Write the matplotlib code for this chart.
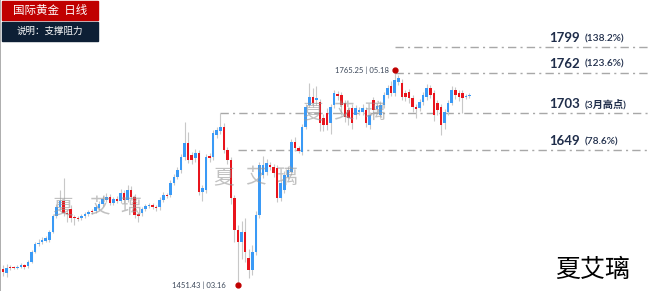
import numpy as np
import matplotlib.pyplot as plt
from matplotlib.patches import Rectangle

# daily OHLC
opens = [1475, 1469, 1478, 1478, 1477, 1478, 1481, 1480, 1486, 1500,
         1512, 1515, 1516, 1518, 1529, 1553, 1566, 1575, 1557, 1563,
         1551, 1550, 1550, 1553, 1556, 1560, 1560, 1564, 1570, 1576,
         1580, 1572, 1578, 1575, 1586, 1576, 1591, 1580, 1556, 1557,
         1563, 1567, 1569, 1566,
         1566, 1576, 1583, 1583, 1601, 1610, 1620, 1639, 1659, 1642,
         1637, 1645, 1588, 1591, 1640, 1639, 1671, 1677, 1683, 1649,
         1634, 1579, 1532, 1515, 1529, 1491, 1474, 1500, 1554, 1612,
         1617, 1627, 1624, 1623, 1579, 1591, 1610, 1617, 1661, 1652,
         1646, 1683, 1715, 1726, 1722, 1719, 1696, 1703, 1688, 1715,
         1731, 1729, 1718, 1707, 1710, 1700, 1705, 1705, 1707, 1686,
         1722, 1709, 1700, 1715, 1729, 1742, 1732, 1748, 1747, 1732,
         1734, 1725, 1712, 1710, 1719, 1726, 1740, 1732, 1718, 1712,
         1688, 1705, 1718, 1737, 1732, 1732, 1726, 1728]
closes = [1471, 1477, 1477, 1477, 1478, 1481, 1478, 1486, 1500, 1512,
          1513, 1518, 1521, 1529, 1553, 1566, 1575, 1557, 1556, 1550,
          1550, 1548, 1553, 1556, 1559, 1558, 1566, 1570, 1578, 1580,
          1572, 1578, 1575, 1586, 1576, 1591, 1580, 1554, 1553, 1563,
          1567, 1569, 1566, 1564,
          1576, 1583, 1582, 1601, 1610, 1620, 1639, 1659, 1634, 1634,
          1645, 1588, 1594, 1639, 1637, 1674, 1678, 1683, 1649, 1634,
          1579, 1532, 1515, 1529, 1500, 1474, 1500, 1554, 1627, 1627,
          1630, 1624, 1615, 1579, 1601, 1613, 1620, 1661, 1652, 1648,
          1683, 1712, 1726, 1718, 1725, 1688, 1686, 1686, 1712, 1732,
          1728, 1715, 1697, 1696, 1688, 1710, 1707, 1710, 1688, 1700,
          1707, 1713, 1715, 1729, 1740, 1732, 1751, 1754, 1726, 1726,
          1725, 1712, 1709, 1719, 1729, 1740, 1729, 1700, 1707, 1686,
          1705, 1718, 1737, 1729, 1726, 1725, 1728, 1729]
highs = [1481, 1482, 1481, 1480, 1481, 1484, 1483, 1488, 1503, 1515,
         1519, 1522, 1524, 1532, 1556, 1570, 1591, 1608, 1562, 1569,
         1554, 1553, 1556, 1559, 1562, 1563, 1569, 1574, 1582, 1586,
         1584, 1581, 1582, 1592, 1590, 1598, 1596, 1584, 1559, 1566,
         1570, 1572, 1572, 1569,
         1580, 1587, 1586, 1605, 1614, 1624, 1643, 1690, 1675, 1646,
         1650, 1649, 1598, 1643, 1645, 1678, 1683, 1703, 1688, 1653,
         1638, 1583, 1540, 1545, 1550, 1505, 1510, 1560, 1631, 1640,
         1636, 1632, 1628, 1627, 1605, 1618, 1625, 1665, 1668, 1655,
         1687, 1716, 1747, 1740, 1742, 1724, 1702, 1710, 1716, 1736,
         1735, 1734, 1722, 1712, 1716, 1715, 1712, 1716, 1712, 1705,
         1726, 1718, 1720, 1733, 1744, 1750, 1765.25, 1759, 1752, 1736,
         1738, 1729, 1716, 1723, 1733, 1745, 1744, 1736, 1722, 1716,
         1709, 1722, 1742, 1741, 1736, 1736, 1731, 1732]
lows = [1465, 1464, 1474, 1475, 1475, 1476, 1475, 1477, 1484, 1498,
        1509, 1512, 1514, 1515, 1527, 1550, 1562, 1552, 1544, 1544,
        1540, 1545, 1547, 1550, 1553, 1555, 1557, 1561, 1567, 1573,
        1568, 1569, 1571, 1572, 1572, 1573, 1576, 1550, 1544, 1552,
        1560, 1564, 1563, 1560,
        1562, 1573, 1579, 1580, 1598, 1606, 1616, 1635, 1630, 1628,
        1632, 1583, 1575, 1586, 1632, 1635, 1667, 1673, 1645, 1628,
        1570, 1515, 1451.43, 1490, 1485, 1462, 1466, 1495, 1550, 1608,
        1612, 1619, 1610, 1573, 1575, 1586, 1606, 1613, 1648, 1644,
        1642, 1679, 1711, 1712, 1715, 1676, 1676, 1678, 1672, 1710,
        1722, 1700, 1690, 1685, 1680, 1694, 1700, 1700, 1682, 1680,
        1702, 1704, 1695, 1710, 1725, 1728, 1728, 1744, 1722, 1720,
        1718, 1705, 1695, 1706, 1715, 1722, 1725, 1692, 1700, 1671,
        1680, 1700, 1714, 1724, 1721, 1703, 1723, 1725]

levels = [1799, 1762, 1703, 1649]
level_notes = ['(138.2%)', '(123.6%)', '(3月高点)', '(78.6%)']
hi_label = '1765.25 | 05.18'
lo_label = '1451.43 | 03.16'

o = np.array(opens, float)
c = np.array(closes, float)
h = np.array(highs, float)
l = np.array(lows, float)
x = np.arange(len(o))

BLUE = '#3A9AF6'
RED = '#E8141C'
NAVY = '#1F2D4A'

fig = plt.figure(figsize=(6.5, 2.91), dpi=100)
ax = fig.add_axes([0, 0, 1, 1])
ax.set_xlim(-0.85, 181.7)
ax.set_ylim(1443, 1868)

# candles
up = c >= o
ax.vlines(x, l, h, color='#C8C8C8', lw=0.8, zorder=1)
body = np.maximum(np.abs(c - o), 1.6)
ax.bar(x, body, bottom=np.minimum(o, c), width=0.72,
       color=np.where(up, BLUE, RED), zorder=2)

# support / resistance lines
hi_i = int(np.argmax(h))
lo_i = int(np.argmin(l))
march_i = int(np.argmax(h >= 1703))
starts = [hi_i, hi_i, march_i, lo_i]
x_end = ax.get_xlim()[1]
for lev, note, s in zip(levels, level_notes, starts):
    ax.plot([s, x_end], [lev, lev], color='#A8A8A8', lw=1,
            ls=(0, (6, 3, 1.5, 3)), zorder=0)
    ax.text(0.845, lev + 13, str(lev), transform=ax.get_yaxis_transform(),
            fontsize=9.5, fontweight='bold', color=NAVY, family='Lato', va='center')
    ax.text(0.9, lev + 12, note, transform=ax.get_yaxis_transform(),
            fontsize=7.3, fontweight='semibold', color=NAVY,
            family=['Lato', 'Noto Sans CJK SC'], va='center')

# high / low markers
ax.plot(hi_i, h[hi_i], 'o', color='#C00000', ms=3.5, zorder=3)
ax.plot(lo_i, l[lo_i], 'o', color='#C00000', ms=3.5, zorder=3)
ax.annotate(hi_label, (hi_i, h[hi_i]), xytext=(-4.5, 0), textcoords='offset points',
            ha='right', va='center', fontsize=5.5, color='#3A4658', family='Lato')
ax.annotate(lo_label, (lo_i, l[lo_i]), xytext=(-9, 0), textcoords='offset points',
            ha='right', va='center', fontsize=5.5, color='#3A4658', family='Lato')

# watermarks
cjk = ['Noto Sans CJK SC', 'DejaVu Sans']
marks = [((63, 99, 131), 207), ((224, 255, 287), 177), ((313, 343, 375), 112)]
for xs, yp in marks:
    for ch, xp in zip('夏艾璃', xs):
        ax.text(xp / 650, 1 - yp / 291, ch, transform=ax.transAxes, fontsize=15,
                fontweight='light', color='#999999', alpha=0.6, family=cjk,
                ha='center', va='center', zorder=4)
ax.text(593 / 650, 1 - 270 / 291, '夏艾璃', transform=ax.transAxes, fontsize=18,
        fontweight='light', color='black', family=cjk, ha='center', va='center')

# title boxes
ax.add_patch(Rectangle((0.003, 0.931), 0.148, 0.066, transform=ax.transAxes,
                       color='#C00000', zorder=5))
ax.text(0.077, 0.964, '国际黄金  日线', transform=ax.transAxes, fontsize=8.3,
        color='white', family=cjk, ha='center', va='center', zorder=6)
ax.add_patch(Rectangle((0.003, 0.859), 0.148, 0.066, transform=ax.transAxes,
                       color='#0D1F35', zorder=5))
ax.text(0.077, 0.892, '说明：支撑阻力', transform=ax.transAxes, fontsize=6.8,
        color='white', family=cjk, ha='center', va='center', zorder=6)

ax.set_xticks([])
ax.set_yticks([])
for side in ['top', 'right', 'bottom']:
    ax.spines[side].set_visible(False)
ax.spines['left'].set_color('#A0A0A0')
ax.spines['left'].set_linewidth(1.2)

fig.savefig('out.png', dpi=100)
